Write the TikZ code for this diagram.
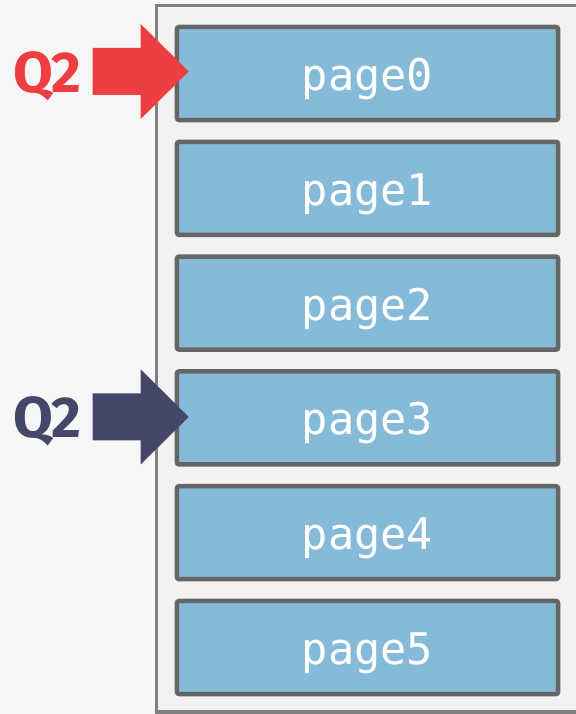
\documentclass[tikz,border=0pt]{standalone}
\usepackage{fontspec}
\setsansfont{Fira Sans}
\setmonofont{DejaVu Sans Mono}
\definecolor{poolGray}{HTML}{F2F2F2}
\definecolor{poolEdge}{HTML}{808080}
\definecolor{pageBlue}{HTML}{85BAD9}
\definecolor{pageEdge}{HTML}{666666}
\definecolor{qRed}{HTML}{EF3E42}
\definecolor{qDark}{HTML}{45476A}
\usetikzlibrary{positioning,calc}

\begin{document}
\begin{tikzpicture}[
    x=0.025cm, y=-0.025cm,
    pagebox/.style={rectangle, rounded corners=1.5pt, draw=pageEdge, fill=pageBlue,
                    line width=3.2pt, minimum width=9.525cm, minimum height=2.325cm,
                    text=white, font=\fontsize{31}{31}\selectfont\ttfamily},
    qlabel/.style={font=\fontsize{41}{41}\selectfont\sffamily\bfseries, inner sep=0pt}
  ]
  \useasboundingbox (0,0) rectangle (576,714);
  \fill[white!40!poolGray] (0,0) rectangle (576,714);
  \draw[poolEdge, fill=poolGray, line width=2.4pt] (156.5,5.5) rectangle (620,712);

  \foreach \i in {0,...,5}
    \node[pagebox] (p\i) at (367.5, 73.5+114.8*\i) {\raisebox{-0.14cm}[\height][\depth]{page\i}};

  % query cursors
  \coordinate (a0) at ($(p0.west)+(14,-2)$);
  \coordinate (a3) at ($(p3.west)+(14,-1)$);
  \fill[qRed]  (a0) -- ++(-48,-47.5) -- ++(0,24) -- ++(-48,0) -- ++(0,47) -- ++(48,0) -- ++(0,24) -- cycle;
  \fill[qDark] (a3) -- ++(-48,-47.5) -- ++(0,24) -- ++(-48,0) -- ++(0,47) -- ++(48,0) -- ++(0,24) -- cycle;
  \node[qlabel, text=qRed]  (q0) at (47.5, 76) {Q2};
  \node[qlabel, text=qDark] (q3) at (47.5, 421) {Q2};
\end{tikzpicture}
\end{document}
